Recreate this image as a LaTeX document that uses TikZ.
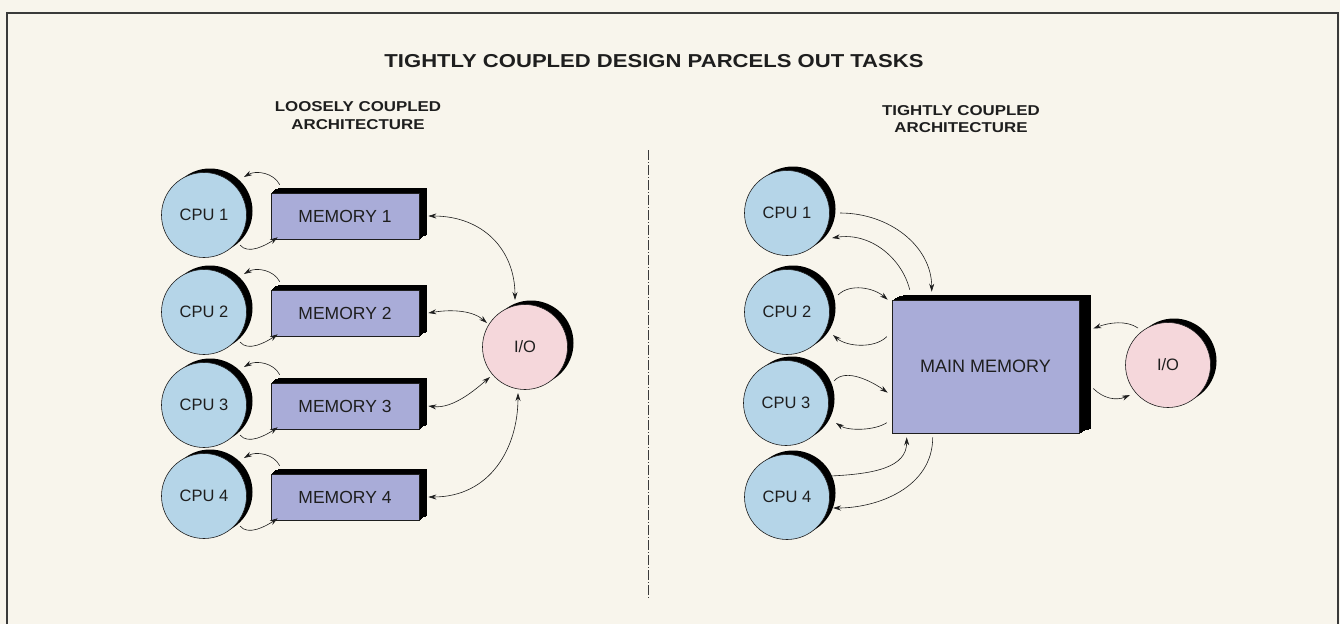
\documentclass[tikz,border=0pt]{standalone}
\usepackage{fontspec}
\setmainfont{Liberation Sans}
\newfontfamily\hdfont[FakeStretch=1.18]{Liberation Sans}
\usetikzlibrary{shadows,arrows.meta}
\definecolor{bgc}{HTML}{F8F5EC}
\definecolor{cpuc}{HTML}{B5D5E8}
\definecolor{ioc}{HTML}{F5D7DB}
\definecolor{memc}{HTML}{A9ACD8}
\definecolor{framec}{HTML}{3A3A3A}
\definecolor{inkc}{HTML}{1E1E1E}
\begin{document}
\begin{tikzpicture}[x=1pt,y=-1pt,
  lbl/.style={font=\fontsize{16.5}{18}\selectfont, text=inkc},
  cpu/.style={lbl, circle, draw=inkc, line width=0.6pt, fill=cpuc, minimum size=85pt, inner sep=0pt,
    general shadow={fill=black, shadow xshift=6pt, shadow yshift=4pt}},
  io/.style={cpu, fill=ioc},
  ext/.style 2 args={
    general shadow={fill=black, draw=black, line width=0.6pt, shadow xshift=0.17*#1, shadow yshift=0.17*#2},
    general shadow={fill=black, draw=black, line width=0.6pt, shadow xshift=0.33*#1, shadow yshift=0.33*#2},
    general shadow={fill=black, draw=black, line width=0.6pt, shadow xshift=0.5*#1, shadow yshift=0.5*#2},
    general shadow={fill=black, draw=black, line width=0.6pt, shadow xshift=0.67*#1, shadow yshift=0.67*#2},
    general shadow={fill=black, draw=black, line width=0.6pt, shadow xshift=0.83*#1, shadow yshift=0.83*#2},
    general shadow={fill=black, draw=black, line width=0.6pt, shadow xshift=#1, shadow yshift=#2}},
  mem/.style={rectangle, draw=inkc, line width=0.6pt, fill=memc, minimum width=148pt, minimum height=46pt, inner sep=0pt,
    font=\fontsize{17.5}{19}\selectfont, text=inkc, ext={7pt}{5pt}},
  mainmem/.style={rectangle, draw=inkc, line width=0.6pt, fill=memc, minimum width=187pt, minimum height=133pt, inner sep=0pt,
    font=\fontsize{18}{20}\selectfont, text=inkc, ext={11pt}{5pt}},
  head/.style={font=\hdfont\bfseries\fontsize{14.3}{17.5}\selectfont, align=center, text=inkc},
  ttl/.style={font=\hdfont\bfseries\fontsize{18.7}{20}\selectfont, text=inkc},
  arr/.style={-{Stealth[length=8pt,width=5pt]}, line width=0.6pt, draw=inkc},
  darr/.style={{Stealth[length=8pt,width=5pt]}-{Stealth[length=8pt,width=5pt]}, line width=0.6pt, draw=inkc},
  divider/.style={line width=0.7pt, draw=framec, dash pattern=on 10pt off 2pt on 1pt off 2pt},
  framel/.style={line width=2.5pt, draw=framec}
]
\fill[bgc] (0,0) rectangle (1340,624);
\useasboundingbox (0,0) rectangle (1340,624);

% frame
\coordinate (fbl) at (7,624);
\coordinate (ftl) at (7,13);
\coordinate (ftr) at (1338,13);
\coordinate (fbr) at (1338,624);
\draw[framel] (fbl) -- (ftl) -- (ftr) -- (fbr);

% divider
\coordinate (dtop) at (648,150);
\coordinate (dbot) at (648,598);
\draw[divider] (dtop) -- (dbot);

% titles
\node[ttl] (title) at (654,61) {TIGHTLY COUPLED DESIGN PARCELS OUT TASKS};
\node[head] (subL) at (358,115.5) {LOOSELY COUPLED\\ARCHITECTURE};
\node[head] (subR) at (961,119) {TIGHTLY COUPLED\\ARCHITECTURE};

% left: loosely coupled
\node[cpu] (L1) at (204,215) {CPU 1};
\node[cpu] (L2) at (204,312) {CPU 2};
\node[cpu] (L3) at (204,405) {CPU 3};
\node[cpu] (L4) at (204,496) {CPU 4};
\node[mem] (M1) at (345,216) {MEMORY 1};
\node[mem] (M2) at (345,313) {MEMORY 2};
\node[mem] (M3) at (345,406) {MEMORY 3};
\node[mem] (M4) at (345,497) {MEMORY 4};
\node[io] (IOL) at (525,347) {I/O};

\foreach \i in {1,2,3,4}{
  \draw[arr] ([shift={(9,-8)}]M\i.north west) .. controls +(-6,-12) and +(12,-7) .. ([shift={(40,-38)}]L\i.center);
  \draw[arr] ([shift={(36,30)}]L\i.center) .. controls +(8,10) and +(-12,8) .. ([shift={(7,-2)}]M\i.south west);
}

\draw[darr] ([shift={(9,0)}]M1.east) .. controls +(55,0) and +(0,-50) .. ([shift={(-10,-47)}]IOL.center);
\draw[darr] ([shift={(9,0)}]M2.east) .. controls +(25,-4) and +(-14,-12) .. ([shift={(-38,-24)}]IOL.center);
\draw[darr] ([shift={(9,0)}]M3.east) .. controls +(25,3) and +(-14,12) .. ([shift={(-35,30)}]IOL.center);
\draw[darr] ([shift={(9,0)}]M4.east) .. controls +(62,0) and +(0,55) .. ([shift={(-7,46)}]IOL.center);

% right: tightly coupled
\node[cpu] (R1) at (787,213) {CPU 1};
\node[cpu] (R2) at (787,312) {CPU 2};
\node[cpu] (R3) at (786,403) {CPU 3};
\node[cpu] (R4) at (787,497) {CPU 4};
\node[mainmem] (MM) at (985.5,366.5) {MAIN MEMORY};
\node[io] (IOR) at (1168,365) {I/O};

\draw[arr] ([shift={(53,0)}]R1.center) .. controls +(50,0) and +(0,-45) .. ([shift={(40,-8)}]MM.north west);
\draw[arr] ([shift={(18,-10)}]MM.north west) .. controls +(-8,-32) and +(38,-6) .. ([shift={(45,25)}]R1.center);

\draw[arr] ([shift={(51,-17)}]R2.center) .. controls +(12,-12) and +(-14,-12) .. ([shift={(-4,0)}]MM.north west);
\draw[arr] ([shift={(-5,37)}]MM.north west) .. controls +(-12,12) and +(14,12) .. ([shift={(46,23)}]R2.center);

\draw[arr] ([shift={(48,-22)}]R3.center) .. controls +(12,-14) and +(-14,-10) .. ([shift={(-4,93)}]MM.north west);
\draw[arr] ([shift={(-5,123)}]MM.north west) .. controls +(-12,8) and +(12,8) .. ([shift={(50,20)}]R3.center);

\draw[arr] ([shift={(43,-21)}]R4.center) .. controls +(45,-2) and +(0,30) .. ([shift={(15,4)}]MM.south west);
\draw[arr] ([shift={(41,4)}]MM.south west) .. controls +(0,50) and +(45,0) .. ([shift={(46,11)}]R4.center);

\draw[arr] ([shift={(-30,-37)}]IOR.center) .. controls +(-12,-8) and +(16,-6) .. ([shift={(14,-38)}]MM.east);
\draw[arr] ([shift={(14,22)}]MM.east) .. controls +(10,10) and +(-14,6) .. ([shift={(-38,30)}]IOR.center);
\end{tikzpicture}
\end{document}
